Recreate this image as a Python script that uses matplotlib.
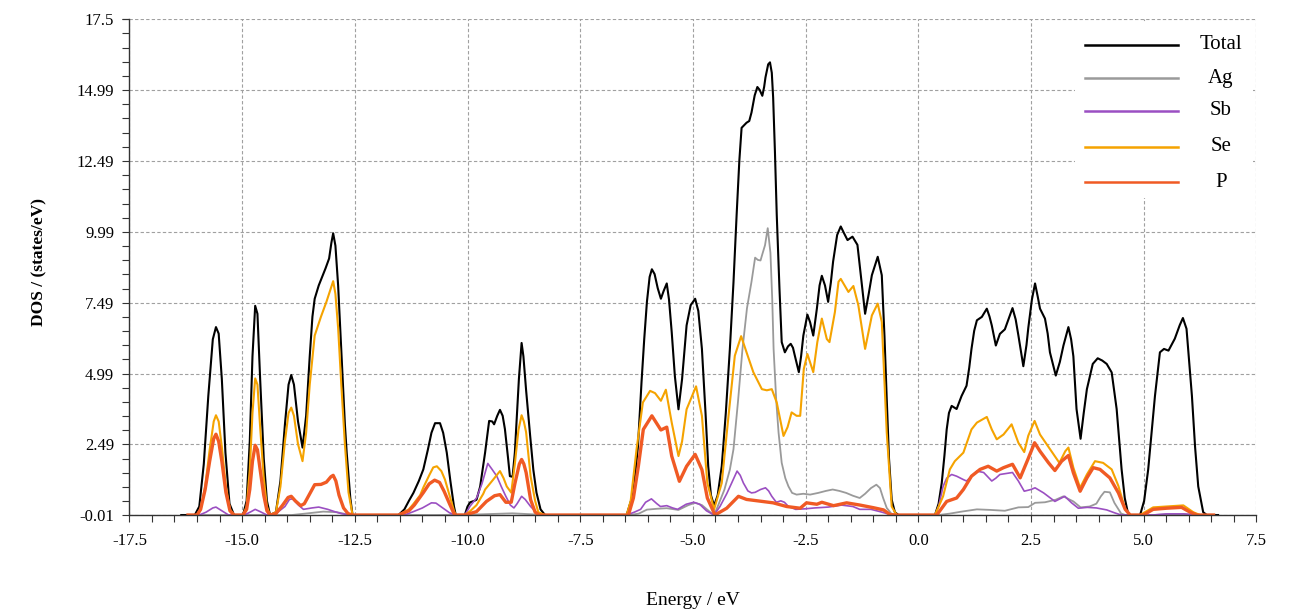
import numpy as np
import matplotlib
matplotlib.use('Agg')
import matplotlib.pyplot as plt
from matplotlib.patches import Rectangle
from matplotlib.ticker import FixedLocator, MultipleLocator

plt.rcParams['font.family'] = ['Liberation Serif', 'DejaVu Serif']
plt.rcParams['axes.unicode_minus'] = False

# ---------------- DOS curves (energy in eV, DOS in states/eV) ----------------
total_e = [-16.35, -16.05, -15.95, -15.85, -15.75, -15.65, -15.58, -15.52, -15.45, -15.37,
           -15.28, -15.18, -14.98, -14.90, -14.83, -14.77, -14.71, -14.66, -14.60, -14.52,
           -14.45, -14.38, -14.25, -14.15, -14.05, -13.97, -13.91, -13.85, -13.76, -13.66,
           -13.58, -13.50, -13.44, -13.39, -13.30, -13.24, -13.15, -13.07, -13.02, -12.98,
           -12.93, -12.87, -12.80, -12.72, -12.68, -12.60, -12.55,
           -11.53, -11.40, -11.30, -11.20, -11.08, -10.98, -10.88, -10.80, -10.72, -10.61,
           -10.54, -10.46, -10.38, -10.30, -10.26,
           -10.06, -10.00, -9.94, -9.85, -9.80, -9.72, -9.61, -9.52, -9.45, -9.41,
           -9.34, -9.28, -9.22, -9.17, -9.10, -9.06, -9.00, -8.95, -8.91, -8.86,
           -8.80, -8.76, -8.70, -8.61, -8.54, -8.47, -8.38, -8.28,
           -6.47, -6.32, -6.22, -6.14, -6.08, -6.02, -5.96, -5.91, -5.85, -5.78,
           -5.71, -5.65, -5.58, -5.53, -5.47, -5.40, -5.32, -5.24, -5.14, -5.05,
           -4.95, -4.88, -4.80, -4.72, -4.66, -4.60, -4.53, -4.45, -4.36, -4.27,
           -4.18, -4.10, -4.03, -3.97, -3.92, -3.81, -3.75, -3.70, -3.63, -3.57,
           -3.52, -3.46, -3.42, -3.39, -3.33, -3.29, -3.25, -3.22, -3.18, -3.14,
           -3.08, -3.03, -2.96, -2.89, -2.83, -2.78, -2.74, -2.65, -2.60, -2.55,
           -2.46, -2.40, -2.33, -2.25, -2.19, -2.14, -2.07, -2.00, -1.94, -1.89,
           -1.80, -1.72, -1.65, -1.57, -1.46, -1.35, -1.27, -1.18, -1.10, -1.03,
           -0.90, -0.81, -0.75, -0.70, -0.65, -0.59, -0.52, -0.44,
           0.37, 0.45, 0.52, 0.58, 0.63, 0.68, 0.74, 0.85, 0.96, 1.07,
           1.13, 1.18, 1.24, 1.30, 1.41, 1.52, 1.58, 1.63, 1.72, 1.81,
           1.92, 2.00, 2.09, 2.16, 2.22, 2.33, 2.40, 2.44, 2.52, 2.59,
           2.65, 2.70, 2.81, 2.87, 2.92, 3.05, 3.14, 3.22, 3.33, 3.39,
           3.44, 3.51, 3.60, 3.67, 3.74, 3.87, 3.98, 4.08, 4.18, 4.29,
           4.40, 4.51, 4.58, 4.66,
           4.92, 5.01, 5.10, 5.18, 5.25, 5.36, 5.45, 5.55, 5.69, 5.80,
           5.87, 5.95, 6.07, 6.14, 6.21, 6.32, 6.40, 6.65]
total_dos = [0, 0, 0.3, 1.8, 4.2, 6.2, 6.63, 6.4, 4.8, 2.2,
             0.4, 0, 0, 0.5, 2.6, 5.6, 7.38, 7.1, 4.8, 2.0,
             0.5, 0, 0.1, 1.2, 3.2, 4.6, 4.94, 4.6, 3.3, 2.38,
             3.5, 5.6, 7.0, 7.63, 8.1, 8.34, 8.7, 9.05, 9.6, 9.94,
             9.5, 8.1, 5.8, 3.2, 2.2, 0.6, 0,
             0, 0.2, 0.5, 0.78, 1.2, 1.61, 2.3, 2.9, 3.24, 3.24,
             2.9, 2.2, 1.2, 0.3, 0,
             0, 0.3, 0.45, 0.5, 0.54, 1.0, 2.2, 3.32, 3.3, 3.2,
             3.5, 3.71, 3.5, 3.03, 2.0, 1.37, 1.35, 2.2, 3.38, 4.8,
             6.07, 5.6, 4.4, 2.79, 1.6, 0.79, 0.2, 0,
             0, 0.78, 2.4, 4.68, 6.2, 7.52, 8.4, 8.67, 8.5, 8.0,
             7.63, 7.9, 8.17, 7.6, 6.45, 4.9, 3.73, 4.8, 6.69, 7.4,
             7.63, 7.2, 5.86, 3.6, 1.72, 0.7, 0.33, 0.7, 1.72, 3.6,
             5.86, 8.2, 10.59, 12.5, 13.66, 13.84, 13.9, 14.2, 14.8, 15.1,
             15.0, 14.79, 15.1, 15.44, 15.9, 15.97, 15.6, 14.73, 12.8, 10.59,
             8.0, 6.1, 5.74, 5.95, 6.04, 5.9, 5.63, 5.04, 5.6, 6.33,
             7.07, 6.8, 6.33, 7.28, 8.1, 8.44, 8.1, 7.52, 8.2, 8.94,
             9.88, 10.18, 9.95, 9.70, 9.82, 9.53, 8.4, 7.10, 7.8, 8.46,
             9.11, 8.46, 6.3, 4.09, 2.0, 0.54, 0.1, 0,
             0, 0.4, 1.13, 2.1, 3.02, 3.6, 3.85, 3.74, 4.2, 4.56,
             5.2, 5.86, 6.5, 6.87, 6.99, 7.28, 7.0, 6.69, 5.98, 6.39,
             6.55, 6.9, 7.30, 6.9, 6.34, 5.25, 6.0, 6.6, 7.6, 8.17,
             7.7, 7.28, 6.93, 6.4, 5.74, 4.92, 5.4, 5.98, 6.63, 6.2,
             5.6, 3.74, 2.69, 3.6, 4.44, 5.33, 5.53, 5.45, 5.33, 5.03,
             3.74, 1.61, 0.6, 0,
             0, 0.5, 1.61, 3.0, 4.2, 5.74, 5.86, 5.8, 6.22, 6.7,
             6.95, 6.57, 4.2, 2.4, 1.01, 0.1, 0, 0]

ag_e = [-16.2, -13.9, -13.6, -13.2, -12.9, -12.6, -10.7, -9.8, -9.0, -8.5, -8.3,
        -6.40, -6.20, -6.02, -5.80, -5.58, -5.32, -5.10, -4.95, -4.80, -4.60,
        -4.53, -4.45, -4.30, -4.18, -4.10, -4.00, -3.90, -3.80, -3.70, -3.62,
        -3.56, -3.50, -3.46, -3.40, -3.34, -3.28, -3.24, -3.21, -3.15, -3.10,
        -3.03, -2.95, -2.88, -2.80, -2.70, -2.55, -2.40, -2.22, -2.05, -1.90,
        -1.75, -1.60, -1.45, -1.30, -1.18, -1.05, -0.93, -0.85, -0.78, -0.70,
        -0.60, -0.50,
        0.45, 0.70, 0.96, 1.30, 1.60, 1.92, 2.22, 2.44, 2.59, 2.81,
        3.05, 3.22, 3.35, 3.44, 3.60, 3.80, 3.95, 4.05, 4.13, 4.25,
        4.35, 4.50, 4.60, 5.20, 5.60, 6.00, 6.30, 6.55]
ag_dos = [0, 0, 0.05, 0.12, 0.1, 0, 0, 0.02, 0.06, 0.02, 0,
          0, 0.05, 0.19, 0.22, 0.24, 0.18, 0.35, 0.43, 0.35, 0.08,
          0, 0.3, 0.9, 1.6, 2.32, 4.0, 5.86, 7.3, 8.23, 9.08,
          9.0, 8.98, 9.2, 9.52, 10.12, 9.25, 7.6, 5.86, 4.0, 2.91,
          1.84, 1.3, 1.01, 0.78, 0.72, 0.75, 0.72, 0.78, 0.85, 0.9,
          0.85, 0.78, 0.68, 0.6, 0.75, 0.95, 1.07, 0.95, 0.6, 0.25,
          0.05, 0,
          0, 0.05, 0.12, 0.2, 0.18, 0.15, 0.27, 0.28, 0.43, 0.45,
          0.54, 0.66, 0.55, 0.48, 0.27, 0.3, 0.4, 0.66, 0.82, 0.8,
          0.43, 0.05, 0, 0, 0.03, 0.02, 0, 0]

sb_e = [-16.2, -15.95, -15.80, -15.65, -15.58, -15.45, -15.30, -14.95, -14.80, -14.71,
        -14.60, -14.45, -14.25, -14.05, -13.95, -13.88, -13.75, -13.64, -13.45, -13.30,
        -13.10, -12.95, -12.80, -12.60,
        -11.40, -11.20, -11.00, -10.80, -10.70, -10.55, -10.40, -10.28,
        -10.06, -9.94, -9.80, -9.68, -9.55, -9.45, -9.35, -9.25, -9.15, -9.05,
        -8.97, -8.90, -8.80, -8.72, -8.60, -8.45, -8.30,
        -6.47, -6.30, -6.16, -6.05, -5.92, -5.80, -5.72, -5.58, -5.45, -5.34,
        -5.15, -4.98, -4.85, -4.70, -4.53, -4.40, -4.25, -4.14, -4.02, -3.95,
        -3.88, -3.78, -3.70, -3.62, -3.50, -3.39, -3.32, -3.25, -3.15, -3.05,
        -2.97, -2.88, -2.72, -2.50, -2.30, -2.00, -1.70, -1.45, -1.30, -1.05,
        -0.85, -0.65, -0.50,
        0.37, 0.45, 0.55, 0.63, 0.74, 0.85, 1.00, 1.07, 1.30, 1.45,
        1.63, 1.72, 1.81, 2.09, 2.22, 2.35, 2.50, 2.59, 2.78, 3.03,
        3.25, 3.40, 3.55, 3.75, 3.95, 4.18, 4.35, 4.50,
        5.20, 5.50, 5.90, 6.20, 6.55]
sb_dos = [0, 0, 0.1, 0.25, 0.28, 0.15, 0, 0, 0.12, 0.2,
          0.12, 0, 0.05, 0.3, 0.55, 0.57, 0.35, 0.2, 0.25, 0.28,
          0.2, 0.12, 0.05, 0,
          0, 0.12, 0.25, 0.43, 0.42, 0.25, 0.08, 0,
          0, 0.32, 0.6, 1.1, 1.82, 1.6, 1.37, 1.0, 0.66, 0.35,
          0.25, 0.4, 0.66, 0.55, 0.3, 0.05, 0,
          0, 0.1, 0.2, 0.45, 0.57, 0.4, 0.3, 0.33, 0.25, 0.2,
          0.38, 0.45, 0.38, 0.15, 0, 0.3, 0.75, 1.13, 1.55, 1.4,
          1.13, 0.85, 0.78, 0.8, 0.9, 0.96, 0.85, 0.66, 0.45, 0.5,
          0.45, 0.3, 0.2, 0.22, 0.25, 0.28, 0.35, 0.3, 0.2, 0.2,
          0.12, 0.03, 0,
          0, 0.3, 1.01, 1.3, 1.43, 1.37, 1.25, 1.2, 1.55, 1.5,
          1.2, 1.3, 1.43, 1.5, 1.2, 0.84, 0.9, 0.96, 0.78, 0.48,
          0.66, 0.43, 0.24, 0.27, 0.25, 0.18, 0.08, 0,
          0, 0.04, 0.04, 0, 0]

se_e = [-16.2, -16.00, -15.92, -15.82, -15.72, -15.63, -15.58, -15.52, -15.45, -15.36,
        -15.27, -15.18, -14.98, -14.90, -14.83, -14.77, -14.71, -14.66, -14.60, -14.52,
        -14.45, -14.38, -14.25, -14.15, -14.05, -13.97, -13.91, -13.85, -13.76, -13.66,
        -13.58, -13.50, -13.39, -13.25, -13.13, -13.03, -12.98, -12.93, -12.87, -12.80,
        -12.72, -12.64, -12.55,
        -11.53, -11.30, -11.20, -11.05, -10.98, -10.85, -10.76, -10.68, -10.58, -10.50,
        -10.40, -10.30, -10.26,
        -10.06, -9.94, -9.80, -9.65, -9.61, -9.43, -9.28, -9.20, -9.13, -9.03,
        -8.95, -8.87, -8.80, -8.75, -8.70, -8.60, -8.50, -8.43, -8.28,
        -6.47, -6.38, -6.25, -6.11, -5.95, -5.84, -5.71, -5.60, -5.47, -5.32,
        -5.24, -5.14, -4.93, -4.80, -4.68, -4.53, -4.36, -4.21, -4.07, -3.93,
        -3.81, -3.66, -3.47, -3.36, -3.25, -3.14, -2.99, -2.90, -2.81, -2.70,
        -2.62, -2.54, -2.46, -2.33, -2.24, -2.14, -2.03, -1.97, -1.85, -1.77,
        -1.72, -1.55, -1.44, -1.33, -1.18, -1.03, -0.90, -0.81, -0.70, -0.59,
        -0.48,
        0.37, 0.55, 0.70, 0.81, 1.00, 1.18, 1.30, 1.52, 1.63, 1.74,
        1.89, 2.07, 2.22, 2.35, 2.44, 2.58, 2.70, 2.85, 3.00, 3.13,
        3.26, 3.33, 3.44, 3.59, 3.74, 3.92, 4.10, 4.29, 4.44, 4.59,
        4.70,
        4.92, 5.21, 5.51, 5.88, 6.10, 6.25, 6.55]
se_dos = [0, 0, 0.2, 1.0, 2.3, 3.3, 3.52, 3.3, 2.4, 1.0,
          0.2, 0, 0, 0.3, 1.6, 3.6, 4.82, 4.6, 3.1, 1.3,
          0.3, 0, 0.1, 1.0, 2.6, 3.6, 3.79, 3.5, 2.5, 1.90,
          2.9, 4.6, 6.33, 7.0, 7.52, 8.0, 8.25, 7.8, 6.6, 4.6,
          2.5, 0.8, 0,
          0, 0.2, 0.39, 0.7, 0.97, 1.4, 1.68, 1.72, 1.55, 1.25,
          0.7, 0.15, 0,
          0, 0.14, 0.35, 0.75, 0.9, 1.25, 1.55, 1.3, 1.01, 0.79,
          1.8, 3.0, 3.52, 3.3, 2.92, 1.36, 0.5, 0.1, 0,
          0, 0.5, 2.32, 3.97, 4.38, 4.3, 4.03, 4.42, 3.26, 2.08,
          2.6, 3.73, 4.54, 3.5, 1.13, 0.2, 1.13, 3.5, 5.62, 6.31,
          5.74, 5.04, 4.44, 4.4, 4.44, 3.97, 2.79, 3.1, 3.62, 3.5,
          3.5, 5.15, 5.68, 5.04, 6.1, 6.93, 6.21, 6.1, 7.16, 8.23,
          8.33, 7.87, 8.08, 7.4, 5.86, 7.04, 7.46, 6.81, 2.91, 0.3,
          0,
          0, 0.66, 1.61, 1.9, 2.2, 3.02, 3.26, 3.46, 3.02, 2.67,
          2.84, 3.2, 2.55, 2.22, 2.8, 3.32, 2.84, 2.49, 2.14, 1.84,
          2.25, 2.38, 1.67, 0.96, 1.43, 1.9, 1.84, 1.61, 1.02, 0.2,
          0,
          0, 0.27, 0.3, 0.34, 0.1, 0, 0]

p_e = [-16.2, -16.00, -15.92, -15.82, -15.72, -15.63, -15.58, -15.52, -15.45, -15.36,
       -15.27, -15.18, -14.98, -14.90, -14.83, -14.77, -14.71, -14.66, -14.60, -14.52,
       -14.45, -14.38, -14.25, -14.10, -13.98, -13.91, -13.82, -13.70, -13.62, -13.50,
       -13.39, -13.25, -13.13, -13.03, -12.98, -12.92, -12.85, -12.75, -12.65, -12.55,
       -11.53, -11.30, -11.18, -10.98, -10.85, -10.73, -10.62, -10.52, -10.40, -10.30,
       -10.26,
       -10.06, -9.80, -9.58, -9.40, -9.28, -9.15, -9.03, -8.95, -8.85, -8.80,
       -8.75, -8.70, -8.60, -8.50, -8.40,
       -6.43, -6.32, -6.21, -6.10, -5.91, -5.71, -5.58, -5.47, -5.30, -5.14,
       -4.95, -4.80, -4.68, -4.51, -4.25, -3.99, -3.81, -3.51, -3.22, -2.92,
       -2.62, -2.48, -2.25, -2.14, -1.88, -1.59, -1.29, -1.00, -0.77, -0.63,
       -0.50,
       0.41, 0.63, 0.85, 1.00, 1.18, 1.37, 1.55, 1.74, 1.89, 2.09,
       2.26, 2.43, 2.58, 2.70, 2.89, 3.03, 3.18, 3.33, 3.44, 3.59,
       3.74, 3.88, 4.03, 4.25, 4.44, 4.59, 4.70,
       4.99, 5.21, 5.51, 5.84, 6.03, 6.18, 6.55]
p_dos = [0, 0, 0.2, 0.9, 1.9, 2.7, 2.85, 2.6, 1.9, 0.8,
         0.15, 0, 0, 0.2, 0.9, 1.9, 2.46, 2.3, 1.6, 0.7,
         0.15, 0, 0.05, 0.35, 0.62, 0.66, 0.5, 0.33, 0.4, 0.75,
         1.07, 1.08, 1.16, 1.35, 1.40, 1.2, 0.7, 0.25, 0.05, 0,
         0, 0.15, 0.35, 0.79, 1.1, 1.23, 1.15, 0.84, 0.4, 0.05,
         0,
         0, 0.12, 0.48, 0.68, 0.72, 0.45, 0.45, 1.1, 1.8, 1.96,
         1.8, 1.5, 0.54, 0.1, 0,
         0, 0.6, 1.72, 3.02, 3.5, 3.0, 3.1, 2.08, 1.19, 1.72,
         2.14, 1.6, 0.6, 0, 0.24, 0.66, 0.55, 0.49, 0.43, 0.3,
         0.24, 0.43, 0.38, 0.45, 0.33, 0.43, 0.35, 0.26, 0.18, 0.02,
         0,
         0, 0.48, 0.6, 0.9, 1.37, 1.61, 1.72, 1.55, 1.67, 1.79,
         1.31, 1.96, 2.55, 2.25, 1.84, 1.57, 1.9, 2.1, 1.49, 0.84,
         1.31, 1.67, 1.61, 1.31, 0.78, 0.2, 0,
         0, 0.2, 0.24, 0.27, 0.1, 0, 0]

series_names = ['Total', 'Ag', 'Sb', 'Se', 'P']
series_colors = ['#000000', '#9a9a9a', '#9b4fc2', '#f5a300', '#f05a24']
series_widths = [1.5, 1.3, 1.2, 1.5, 2.4]

x_ticks = [-17.5, -15.0, -12.5, -10.0, -7.5, -5.0, -2.5, 0.0, 2.5, 5.0, 7.5]
x_ticklabels = ['-17.5', '-15.0', '-12.5', '-10.0', '-7.5', '-5.0', '-2.5', '0.0', '2.5', '5.0', '7.5']
y_ticks = [-0.01, 2.49, 4.99, 7.49, 9.99, 12.49, 14.99, 17.5]
y_ticklabels = ['-0.01', '2.49', '4.99', '7.49', '9.99', '12.49', '14.99', '17.5']

fig = plt.figure(figsize=(12.89, 6.12), dpi=100)
ax = fig.add_axes([0.1004, 0.158, 0.8743, 0.811])

curves = [(total_e, total_dos), (ag_e, ag_dos), (sb_e, sb_dos), (se_e, se_dos), (p_e, p_dos)]
for (e, d), name, c, lw in zip(curves, series_names, series_colors, series_widths):
    ax.plot(e, d, color=c, lw=lw, label=name, solid_joinstyle='round')

ax.set_xlim(-17.5, 7.5)
ax.set_ylim(-0.01, 17.5)
ax.xaxis.set_major_locator(FixedLocator(x_ticks))
ax.set_xticklabels(x_ticklabels)
ax.xaxis.set_minor_locator(MultipleLocator(0.5))
ax.yaxis.set_major_locator(FixedLocator(y_ticks))
ax.set_yticklabels(y_ticklabels)
ax.yaxis.set_minor_locator(FixedLocator(np.arange(-0.01, 17.5, 0.5)))

ax.tick_params(which='both', direction='out', length=5, width=0.8, colors='#333333',
               labelcolor='black', labelsize=12)
ax.tick_params(axis='x', which='major', pad=8)
ax.tick_params(axis='y', which='major', pad=6)

ax.grid(True, which='major', color='#a0a0a0', linestyle=(0, (3, 2)), linewidth=0.8)
ax.set_axisbelow(True)
for side in ('top', 'right'):
    ax.spines[side].set_visible(False)
for side in ('left', 'bottom'):
    ax.spines[side].set_color('#333333')
    ax.spines[side].set_linewidth(1.0)

ax.set_xlabel('Energy / eV', fontsize=14)
ax.set_ylabel('DOS / (states/eV)', fontsize=12.5, fontweight='bold')
ax.xaxis.set_label_coords(0.5, -0.155)
ax.yaxis.set_label_coords(-0.073, 0.51)

# legend: white panel, line samples on the left, names centred on the right
ax.add_patch(Rectangle((0.839, 0.639), 0.158, 0.355, transform=ax.transAxes,
                       facecolor='white', edgecolor='none', zorder=5))
row_y = [0.9476, 0.8806, 0.8152, 0.7427, 0.6710]
for name, c, yy in zip(series_names, series_colors, row_y):
    ax.plot([0.848, 0.930], [yy, yy], transform=ax.transAxes, color=c, lw=1.8,
            zorder=6, clip_on=False)
    ax.text(0.9686, yy, name, transform=ax.transAxes, ha='center', va='center',
            fontsize=15, zorder=6)

fig.savefig('out.png', dpi=100)
